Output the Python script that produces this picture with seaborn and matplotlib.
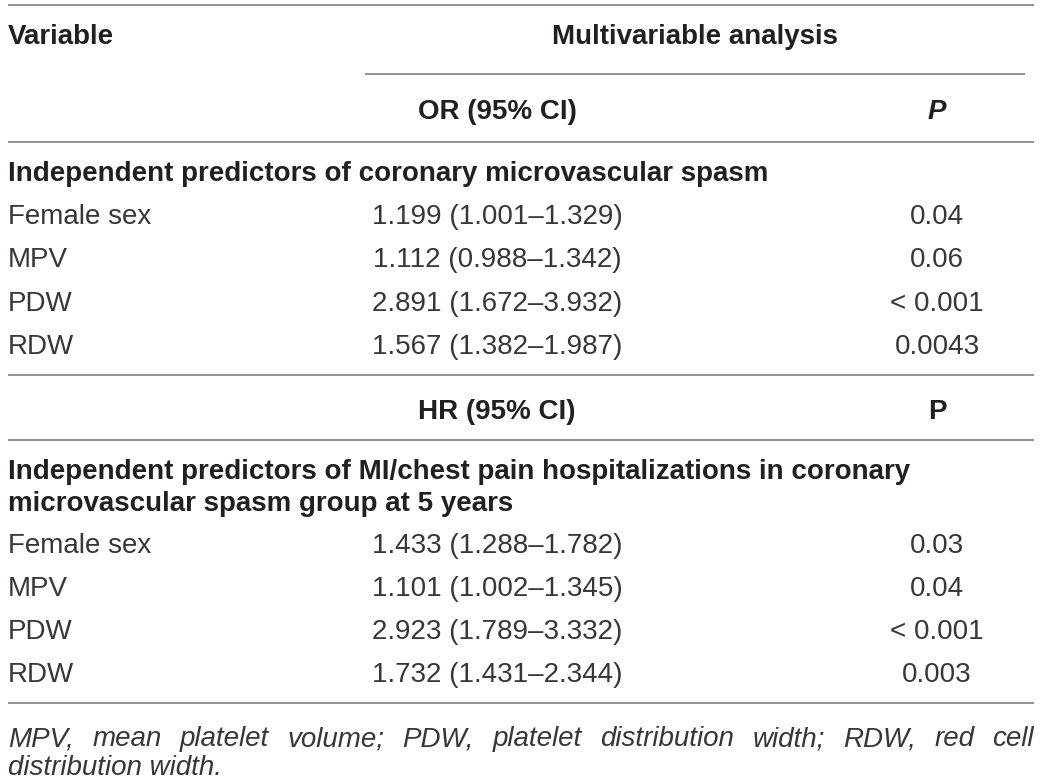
import matplotlib
matplotlib.use("Agg")
import matplotlib.pyplot as plt
import seaborn as sns

# Table content
header_variable = "Variable"
header_group = "Multivariable analysis"
section1_cols = ["OR (95% CI)", "P"]
section1_title = ["Independent predictors of coronary microvascular spasm"]
section1_vars = ["Female sex", "MPV", "PDW", "RDW"]
section1_est = ["1.199 (1.001\u20131.329)", "1.112 (0.988\u20131.342)",
                "2.891 (1.672\u20133.932)", "1.567 (1.382\u20131.987)"]
section1_p = ["0.04", "0.06", "< 0.001", "0.0043"]

section2_cols = ["HR (95% CI)", "P"]
section2_title = ["Independent predictors of MI/chest pain hospitalizations in coronary",
                  "microvascular spasm group at 5 years"]
section2_vars = ["Female sex", "MPV", "PDW", "RDW"]
section2_est = ["1.433 (1.288\u20131.782)", "1.101 (1.002\u20131.345)",
                "2.923 (1.789\u20133.332)", "1.732 (1.431\u20132.344)"]
section2_p = ["0.03", "0.04", "< 0.001", "0.003"]

footnote = ["MPV, mean platelet volume; PDW, platelet distribution width; RDW, red cell",
            "distribution width."]

sns.set_theme(style="white")
plt.rcParams['font.family'] = ['Liberation Sans', 'DejaVu Sans']

W, H = 1042, 780
fig = plt.figure(figsize=(W / 100, H / 100), dpi=100)
ax = fig.add_axes([0, 0, 1, 1])
ax.set_xlim(0, W)
ax.set_ylim(H, 0)
ax.axis('off')

fs = 20
txt = '#231f20'
body = '#3a3637'
line_c = '#8a8a8a'
x_left, x_right = 8, 1034
x_est, x_p = 497, 937
dy = 2  # small offset so text sits like the reference


def hline(y, x0=x_left, x1=x_right):
    ax.plot([x0, x1], [y, y], color=line_c, lw=1.3, solid_capstyle='butt')


def put(x, y, s, ha='left', color=txt, **kw):
    ax.text(x, y + dy, s, ha=ha, va='center', fontsize=fs, color=color, **kw)


hline(5)
put(x_left, 35, header_variable, weight='bold')
put(695, 35, header_group, ha='center', weight='bold')
hline(74, 365, 1025)

# section 1
put(x_est, 110, section1_cols[0], ha='center', weight='bold')
put(x_p, 110, section1_cols[1], ha='center', weight='bold', style='italic')
hline(142)
put(x_left, 172, section1_title[0], weight='bold')
for i, (v, e, p) in enumerate(zip(section1_vars, section1_est, section1_p)):
    y = 215 + i * 43.3
    put(x_left, y, v, color=body)
    put(x_est, y, e, ha='center', color=body)
    put(x_p, y, p, ha='center', color=body)
hline(375)

# section 2
put(x_est, 410, section2_cols[0], ha='center', weight='bold')
put(x_p, 410, section2_cols[1], ha='center', weight='bold')
hline(440)
for j, t in enumerate(section2_title):
    put(x_left, 470 + j * 32, t, weight='bold')
for i, (v, e, p) in enumerate(zip(section2_vars, section2_est, section2_p)):
    y = 544 + i * 43
    put(x_left, y, v, color=body)
    put(x_est, y, e, ha='center', color=body)
    put(x_p, y, p, ha='center', color=body)
hline(703)

# footnote, first line justified to full width
fig.canvas.draw()
renderer = fig.canvas.get_renderer()
words = footnote[0].split(' ')
objs = [ax.text(0, 737 + dy, w, ha='left', va='center', fontsize=fs, color=body, style='italic')
        for w in words]
widths = [o.get_window_extent(renderer).width for o in objs]
gap = (x_right - x_left - sum(widths)) / (len(words) - 1)
x = x_left
for o, w in zip(objs, widths):
    o.set_x(x)
    x += w + gap
put(x_left, 766, footnote[1], style='italic', color=body)

fig.savefig('out.png', dpi=100)
